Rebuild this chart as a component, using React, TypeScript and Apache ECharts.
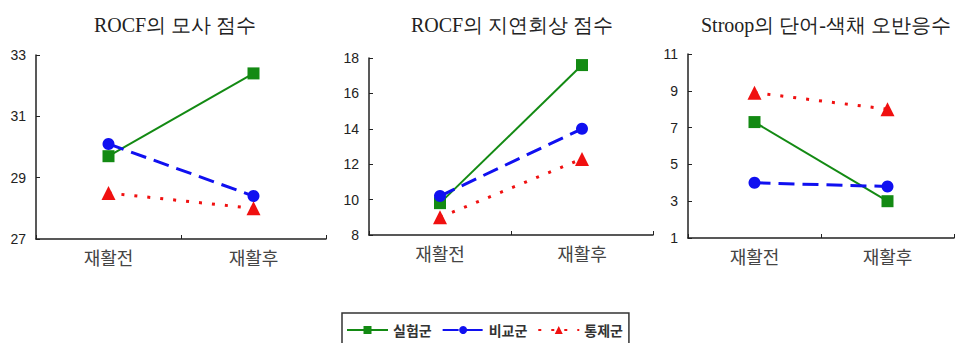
import React, { useEffect, useRef } from "react";
import * as echarts from "echarts";

const categories = ["재활전", "재활후"];
const seriesNames = ["실험군", "비교군", "통제군"];
const titles = ["ROCF의 모사 점수", "ROCF의 지연회상 점수", "Stroop의 단어-색채 오반응수"];

// values per panel: [실험군, 비교군, 통제군]
const panel1 = [[29.7, 32.4], [30.1, 28.4], [28.5, 28.0]];
const panel2 = [[9.8, 17.6], [10.2, 14.0], [9.0, 12.3]];
const panel3 = [[7.3, 3.0], [4.0, 3.8], [8.9, 8.0]];

const yMins = [27, 8, 1];
const yMaxs = [33, 18, 11];
const yIntervals = [2, 2, 2];

export default function App() {
  const ref = useRef<HTMLDivElement>(null);
  useEffect(() => {
    if (!ref.current) return;
    const chart = echarts.init(ref.current, null, { renderer: "svg" });
    const grids = [
      { left: 36, top: 55, width: 290, height: 184 },
      { left: 369, top: 58, width: 284, height: 177 },
      { left: 688, top: 54, width: 266, height: 184 },
    ];
    const titleX = [170, 507, 821];
    const panels = [panel1, panel2, panel3];
    const styles = [
      { color: "#138a13", symbol: "rect", size: 12, line: { width: 2, type: "solid" as any } },
      { color: "#1010f0", symbol: "circle", size: 12, line: { width: 3, type: [16, 8] as any } },
      { color: "#f01010", symbol: "triangle", size: 14, line: { width: 3, type: [3, 10] as any } },
    ];
    const series: any[] = [];
    panels.forEach((p, gi) => {
      p.forEach((vals, si) => {
        const s = styles[si];
        series.push({
          name: seriesNames[si],
          type: "line",
          xAxisIndex: gi,
          yAxisIndex: gi,
          data: vals,
          symbol: s.symbol,
          symbolSize: s.size,
          itemStyle: { color: s.color },
          lineStyle: { color: s.color, width: s.line.width, type: s.line.type },
        });
      });
    });
    chart.setOption({
      animation: false,
      title: titles.map((t, i) => ({
        text: t,
        left: titleX[i],
        top: 10,
        textAlign: "center",
        textStyle: {
          fontFamily: "'Liberation Serif', 'DejaVu Serif', serif",
          fontSize: 20,
          fontWeight: "normal",
          color: "#222",
        },
      })),
      grid: grids,
      xAxis: grids.map((_, i) => ({
        type: "category",
        gridIndex: i,
        data: categories,
        boundaryGap: true,
        axisLine: { lineStyle: { color: "#222", width: 1.5 } },
        axisTick: { show: true, inside: true, length: 4, lineStyle: { color: "#222" } },
        axisLabel: { fontSize: 18, color: "#444", margin: 9, fontFamily: "'Noto Sans CJK KR', sans-serif" },
        splitLine: { show: false },
      })),
      yAxis: grids.map((_, i) => ({
        type: "value",
        gridIndex: i,
        min: yMins[i],
        max: yMaxs[i],
        interval: yIntervals[i],
        axisLine: { show: true, lineStyle: { color: "#222", width: 1.5 } },
        axisTick: { show: true, inside: true, length: 4, lineStyle: { color: "#222" } },
        axisLabel: { fontSize: 14, color: "#222", margin: 10, fontFamily: "Arial, 'Liberation Sans', sans-serif" },
        splitLine: { show: false },
      })),
      legend: {
        data: seriesNames,
        left: 342,
        top: 313,
        padding: [10, 6, 12, 4],
        itemGap: 10,
        itemWidth: 41,
        itemHeight: 10,
        borderColor: "#333",
        borderWidth: 1.5,
        borderRadius: 0,
        textStyle: { fontSize: 14, color: "#333", fontWeight: "bold", fontFamily: "'Noto Sans CJK KR', sans-serif" },
      },
      series,
    });
    return () => chart.dispose();
  }, []);
  return <div ref={ref} style={{ position: "absolute", left: 0, top: 0, width: 964, height: 343 }} />;
}
